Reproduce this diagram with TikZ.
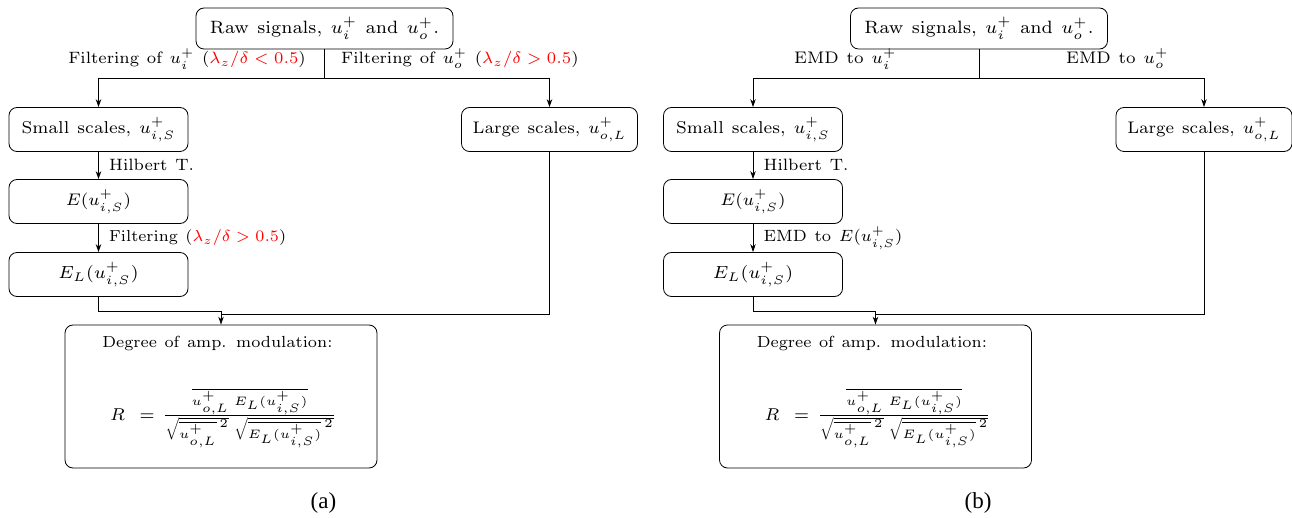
\documentclass[tikz,border=0pt]{standalone}
\usepackage{graphicx}
\usepackage{amsmath}
\usepackage{fontspec}
\newfontfamily\capfont{Liberation Serif}
\usetikzlibrary{arrows.meta}
\DeclareMathSizes{7}{7}{5}{5}
\newcommand{\tx}[2][2.4]{\scalebox{#1}{\usefont{OT1}{cmr}{m}{n}\fontsize{7}{8.5}\selectfont\spaceskip=3.3pt plus 1pt\relax #2}}
\newcommand{\rd}[1]{\textcolor{red}{#1}}
\newcommand{\Rformula}{$R\mkern8mu=\mkern2mu\frac{\overline{u^+_{o,L}\;E_L(u^+_{i,S})}}{\sqrt{\smash[b]{\overline{u^+_{o,L}}^{\,2}}}\;\sqrt{\smash[b]{\overline{E_L(u^+_{i,S})}^{\,2}}}}$}
\begin{document}
\begin{tikzpicture}[x=1pt,y=-1pt,
  every node/.style={inner sep=0pt},
  box/.style={draw, rounded corners=8pt, line width=0.8pt},
  sbox/.style={box, minimum width=179pt, minimum height=44pt},
  arr/.style={-{Stealth[length=8pt,width=5.5pt]}, line width=0.8pt},
  ln/.style={line width=0.8pt},
  captxt/.style={font=\capfont\fontsize{23}{27}\selectfont}]
\useasboundingbox (0,0) rectangle (1292,518);
% ---------- panel (a)
\node[box, minimum width=257pt, minimum height=41pt] (rawa) at (324.5,28.5) {\tx[2.55]{Raw signals, $u_i^+$ and $u_o^+$.}};
\node[sbox] (smalla) at (98.5,129.5) {\tx[2.45]{Small scales, $u^+_{i,S}$}};
\node[sbox, minimum width=176pt] (largea) at (549.5,129.5) {\tx{Large scales, $u^+_{o,L}$}};
\node[sbox] (Ea) at (98.5,201.5) {\tx{$E(u^+_{i,S})$}};
\node[sbox] (ELa) at (98.5,274.5) {\tx[2.5]{$E_L(u^+_{i,S})$}};
\node[box, minimum width=312pt, minimum height=143pt] (dega) at (221,396.5) {};
\node[anchor=base] (degta) at (217.5,348) {\tx[2.3]{Degree of amp. modulation:}};
\node[anchor=base west] (degfa) at (110,420) {\tx[2.45]{\Rformula}};
\node[anchor=base east] (la1) at (306,64) {\tx[2.35]{Filtering of $u_i^+$ (\rd{$\lambda_z/\delta<0.5$})}};
\node[anchor=base west] (la2) at (341,64) {\tx[2.35]{Filtering of $u_o^+$ (\rd{$\lambda_z/\delta>0.5$})}};
\node[anchor=base west] (la3) at (109,171) {\tx[2.35]{Hilbert T.}};
\node[anchor=base west] (la4) at (109,242) {\tx[2.28]{Filtering (\rd{$\lambda_z/\delta>0.5$})}};
\node[captxt] (capa) at (323.5,503) {(a)};
\coordinate (ja) at (324.5,78);
\coordinate (ma) at (221,314);
\draw[ln] (rawa.south) -- (ja);
\draw[arr] (ja) -| (smalla.north);
\draw[arr] (ja) -| (largea.north);
\draw[arr] (smalla) -- (Ea);
\draw[arr] (Ea) -- (ELa);
\draw[arr] (ELa.south) -- ++(0,15) -| (dega.north);
\draw[ln] (largea.south) |- (ma);
% ---------- panel (b)
\node[box, minimum width=257pt, minimum height=41pt] (rawb) at (979,28.5) {\tx[2.55]{Raw signals, $u_i^+$ and $u_o^+$.}};
\node[sbox] (smallb) at (753,129.5) {\tx[2.45]{Small scales, $u^+_{i,S}$}};
\node[sbox, minimum width=176pt] (largeb) at (1204,129.5) {\tx{Large scales, $u^+_{o,L}$}};
\node[sbox] (Eb) at (753,201.5) {\tx{$E(u^+_{i,S})$}};
\node[sbox] (ELb) at (753,274.5) {\tx[2.5]{$E_L(u^+_{i,S})$}};
\node[box, minimum width=312pt, minimum height=143pt] (degb) at (875.5,396.5) {};
\node[anchor=base] (degtb) at (872,348) {\tx[2.3]{Degree of amp. modulation:}};
\node[anchor=base west] (degfb) at (764.5,420) {\tx[2.45]{\Rformula}};
\node[anchor=base west] (lb1) at (794,64) {\tx{EMD to $u_i^+$}};
\node[anchor=base west] (lb2) at (1066,64) {\tx{EMD to $u_o^+$}};
\node[anchor=base west] (lb3) at (763.5,171) {\tx[2.35]{Hilbert T.}};
\node[anchor=base west] (lb4) at (763.5,242) {\tx[2.33]{EMD to $E(u^+_{i,S})$}};
\node[captxt] (capb) at (978,503) {(b)};
\coordinate (jb) at (979,78);
\coordinate (mb) at (875.5,314);
\draw[ln] (rawb.south) -- (jb);
\draw[arr] (jb) -| (smallb.north);
\draw[arr] (jb) -| (largeb.north);
\draw[arr] (smallb) -- (Eb);
\draw[arr] (Eb) -- (ELb);
\draw[arr] (ELb.south) -- ++(0,15) -| (degb.north);
\draw[ln] (largeb.south) |- (mb);
\end{tikzpicture}
\end{document}
